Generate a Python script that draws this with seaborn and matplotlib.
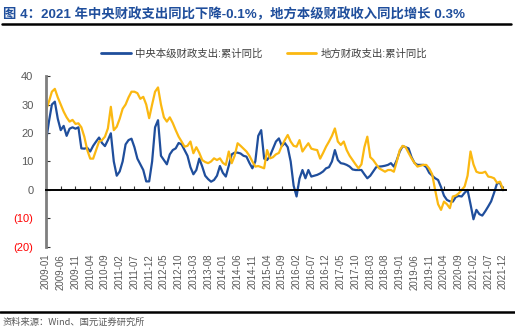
import numpy as np
import pandas as pd
import matplotlib
matplotlib.use("Agg")
import matplotlib.pyplot as plt
from matplotlib.lines import Line2D
from matplotlib.ticker import FuncFormatter
import seaborn as sns

# Monthly cumulative YoY growth (%), 2009-01 .. 2021-12
months = pd.date_range("2009-01", "2021-12", freq="MS").strftime("%Y-%m").tolist()

central_exp = [
    17, 24, 30, 31, 25, 21, 22.5, 19, 21.5, 22, 21.5, 22,
    14.6, 14.5, 14.8, 13.5, 15.5, 17, 18.4, 16.5, 15.4, 17.5, 19.9, 10,
    5, 6.5, 10, 16, 17.5, 18, 15, 11, 9, 7, 3, 3,
    10, 22, 24.5, 12, 10.5, 9, 12.5, 14, 14.6, 16.5, 16, 14,
    12, 8, 5.5, 7, 11, 8.2, 5, 3.8, 2.9, 3.5, 5, 8.4,
    6, 4.7, 8.5, 12.5, 13.1, 13.1, 12.8, 12, 11.7, 9.5, 7.6, 10,
    19, 21, 11, 10.5, 12, 14.5, 17, 18.1, 15.4, 16.5, 15, 10,
    1.5, -2.3, 4, 7, 4.1, 7, 4.7, 5, 5.3, 5.8, 6.5, 7.6,
    8, 10, 14, 10.5, 9.4, 9.2, 8.8, 8.2, 7.2, 7, 7, 7,
    5.5, 4.1, 5, 6.5, 8, 8.2, 8.3, 8.5, 8.8, 9.4, 8.2, 10.5,
    13.5, 15.4, 15, 14.6, 11.5, 9.5, 8.8, 8.8, 8.8, 8, 6, 5,
    4.1, 3.5, 1, -2, -3.5, -4, -4.1, -2.5, -2.1, -2.3, -1, 0,
    -5, -10.3, -7, -8.5, -9, -7.5, -5.8, -4, -1, 2.3, 2.5, -0.1,
]

local_exp = [
    28, 31, 34.5, 35.5, 32.5, 30, 27.5, 25.5, 24, 24.6, 23.2, 23.4,
    22, 18.7, 14, 11, 11, 14, 17, 17.5, 18.7, 21.6, 29.2, 21,
    22.2, 25, 28.5, 30, 32.5, 34.5, 34.5, 34, 32, 32.7, 30, 25.2,
    30, 34.5, 36, 30, 25.5, 24, 25.5, 23.5, 21, 18.7, 17, 15.2,
    15.5, 17, 12.9, 15, 13, 10.5, 9.8, 9.4, 10, 11.1, 10.5, 11.1,
    9.5, 8.8, 13.5, 9.4, 12, 16.4, 15.5, 14.5, 13.5, 12, 10, 8.2,
    8.4, 8, 7.6, 14, 11.1, 11.5, 12.5, 13, 15.5, 17.5, 19.3, 17,
    15.5, 15.2, 17.5, 13.5, 15, 16.4, 14.5, 14.2, 14, 11, 13, 15.2,
    17, 19, 21.6, 17, 15.8, 17, 14, 12, 10.5, 9, 7.6, 9,
    15, 18.7, 11.5, 10.5, 9, 7.6, 7, 6.4, 7, 7, 6.4, 10,
    14, 15.5, 15, 13, 11.1, 9.5, 8.2, 8.5, 8.8, 8.8, 7.5, 5.5,
    0, -5, -7, -4.1, -5, -6.4, -2.3, -2, -1.2, 0, 1.2, 5,
    13.5, 9, 6.4, 6, 6, 6.4, 4.7, 4.5, 4.1, 2.5, 2.9, 0.3,
]

series_names = ["中央本级财政支出:累计同比", "地方财政支出:累计同比"]
series_colors = ["#1F4E9C", "#FBB811"]

tick_labels = [
    "2009-01", "2009-06", "2009-11", "2010-04", "2010-09", "2011-02", "2011-07",
    "2011-12", "2012-05", "2012-10", "2013-03", "2013-08", "2014-01", "2014-06",
    "2014-11", "2015-04", "2015-09", "2016-02", "2016-07", "2016-12", "2017-05",
    "2017-10", "2018-03", "2018-08", "2019-01", "2019-06", "2019-11", "2020-04",
    "2020-09", "2021-02", "2021-07", "2021-12",
]
y_ticks = [40, 30, 20, 10, 0, -10, -20]

title = "图 4：2021 年中央财政支出同比下降-0.1%，地方本级财政收入同比增长 0.3%"
source = "资料来源：Wind、国元证券研究所"

sns.set_theme(style="white")
plt.rcParams["font.family"] = ["Liberation Sans", "Noto Sans CJK SC", "DejaVu Sans"]

pos = np.arange(len(months))
df = pd.concat([
    pd.DataFrame({"idx": pos, "value": central_exp, "series": series_names[0]}),
    pd.DataFrame({"idx": pos, "value": local_exp, "series": series_names[1]}),
])

fig = plt.figure(figsize=(5.15, 3.35), dpi=100)
ax = fig.add_axes([0.0893, 0.263, 0.893, 0.510])

sns.lineplot(data=df, x="idx", y="value", hue="series", hue_order=series_names,
             palette=series_colors, linewidth=1.6, ax=ax, legend=False)

ax.set_xlim(0, len(months))
ax.set_ylim(-20, 40)
ax.set_xlabel("")
ax.set_ylabel("")

# zero line carries the x tick marks
for side in ["top", "right"]:
    ax.spines[side].set_visible(False)
ax.spines["bottom"].set_position(("data", 0))
ax.spines["bottom"].set_color("black")
ax.spines["bottom"].set_linewidth(1.4)
ax.spines["left"].set_color("#7F7F7F")
ax.spines["left"].set_linewidth(2.0)

tick_pos = [months.index(t) for t in tick_labels]
ax.set_xticks(tick_pos)
ax.tick_params(axis="x", direction="in", length=3, width=0.8, color="#333333",
               labelbottom=False, bottom=True)

ax.set_yticks(y_ticks)
ax.yaxis.set_major_formatter(FuncFormatter(
    lambda v, _: f"({abs(v):.0f})" if v < 0 else f"{v:.0f}"))
ax.tick_params(axis="y", direction="in", length=3, width=0.8, color="#333333",
               left=True, pad=9, labelsize=8, labelcolor="#595959")
for lab, v in zip(ax.get_yticklabels(), y_ticks):
    if v < 0:
        lab.set_color("#FF0000")

# date labels along the bottom edge
sec = ax.secondary_xaxis("bottom")
sec.set_xticks(tick_pos, labels=tick_labels)
sec.spines["bottom"].set_visible(False)
sec.tick_params(axis="x", length=0, pad=5, labelrotation=90, labelsize=7,
                labelcolor="#595959")

handles = [Line2D([], [], color=c, linewidth=2) for c in series_colors]
fig.legend(handles, series_names, loc="center", bbox_to_anchor=(0.513, 0.839),
           ncol=2, frameon=False, fontsize=7.5, handlelength=2.8,
           columnspacing=2.4, handletextpad=0.4, labelcolor="#404040")

fig.text(0.006, 1 - 18 / 335, title, fontsize=9.6, fontweight="bold",
         color="#1F4E9C", va="baseline", ha="left",
         family=["Liberation Sans", "Noto Sans CJK SC"])
fig.add_artist(Line2D([0.004, 0.992], [1 - 23.5 / 335] * 2, color="black",
                      linewidth=1.8, transform=fig.transFigure))
fig.add_artist(Line2D([0.0, 1.0], [1 - 311.5 / 335] * 2, color="black",
                      linewidth=1.8, transform=fig.transFigure))
fig.text(0.004, 1 - 322 / 335, source, fontsize=6.7, color="#595959",
         va="center", ha="left", family=["Noto Sans CJK SC", "Liberation Sans"])

fig.savefig("out.png", dpi=100)
